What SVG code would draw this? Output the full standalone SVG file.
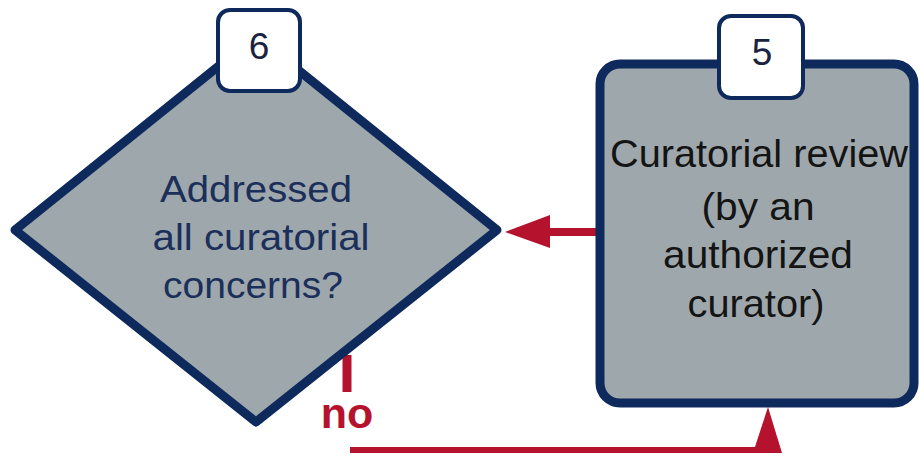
<svg xmlns="http://www.w3.org/2000/svg" width="919" height="458" viewBox="0 0 919 458">
<style>
.shape{fill:#9ea8ac;stroke:#0e2a5c;stroke-width:9;stroke-linejoin:round}
.badge{fill:#ffffff;stroke:#0e2a5c;stroke-width:4}
.num{font-family:"Liberation Sans",Arial,sans-serif;font-size:37px;fill:#1a2440;text-anchor:middle}
.dtxt{font-family:"Liberation Sans",Arial,sans-serif;font-size:37px;fill:#1b2f5a;text-anchor:middle}
.btxt{font-family:"Liberation Sans",Arial,sans-serif;font-size:39px;fill:#141414;text-anchor:middle}
.lbl{font-family:"Liberation Sans",Arial,sans-serif;font-size:43px;font-weight:bold;fill:#b5122e;text-anchor:middle}
.conn{fill:none;stroke:#b5122e}
.head{fill:#b5122e}
</style>
<rect width="919" height="458" fill="#ffffff"/>
<g id="connectors">
<path class="conn" stroke-width="8" d="M596,232 H548"/>
<polygon class="head" points="505,232 550,215 550,248"/>
<path class="conn" stroke-width="9" d="M347,355 V392"/>
<path class="conn" stroke-width="6" d="M350,450 H768"/>
<polygon class="head" points="768,407 753,453 782,453"/>
<text class="lbl" x="347" y="428">no</text>
</g>
<g id="node6">
<polygon class="shape" points="256,36 497,230 256,422 15,230"/>
<rect class="badge" x="218" y="10" width="82" height="81" rx="12"/>
<text class="num" x="259" y="59">6</text>
<text class="dtxt" x="256" y="202" textLength="192" lengthAdjust="spacingAndGlyphs">Addressed</text>
<text class="dtxt" x="261" y="250" textLength="217" lengthAdjust="spacingAndGlyphs">all curatorial</text>
<text class="dtxt" x="253" y="298" textLength="180" lengthAdjust="spacingAndGlyphs">concerns?</text>
</g>
<g id="node5">
<rect class="shape" x="600" y="64" width="314" height="339" rx="20"/>
<rect class="badge" x="719" y="16" width="84" height="82" rx="12"/>
<text class="num" x="762" y="65">5</text>
<text class="btxt" x="759" y="167" textLength="298" lengthAdjust="spacingAndGlyphs">Curatorial review</text>
<text class="btxt" x="758" y="220" textLength="113" lengthAdjust="spacingAndGlyphs">(by an</text>
<text class="btxt" x="758" y="268" textLength="190" lengthAdjust="spacingAndGlyphs">authorized</text>
<text class="btxt" x="756" y="317" textLength="137" lengthAdjust="spacingAndGlyphs">curator)</text>
</g>
</svg>
